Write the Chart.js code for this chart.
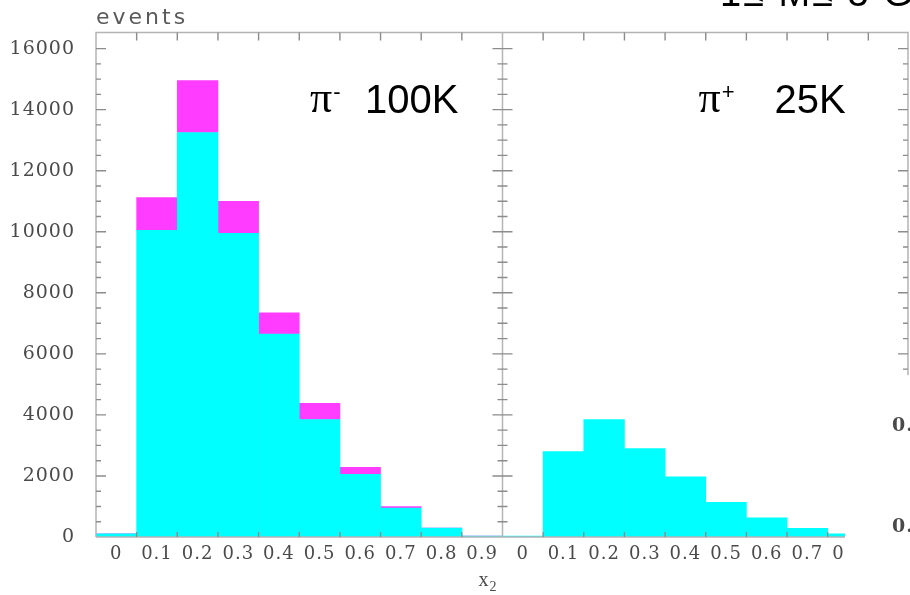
<!DOCTYPE html>
<html>
<head>
<meta charset="utf-8">
<script src="https://cdn.jsdelivr.net/npm/chart.js@4/dist/chart.umd.min.js"></script>
<style>
  html, body { margin: 0; padding: 0; background: #ffffff; }
  #c { display: block; }
</style>
</head>
<body>
<canvas id="c" width="910" height="595"></canvas>
<script>
// ---- data ----
const categories = ['0', '0.1', '0.2', '0.3', '0.4', '0.5', '0.6', '0.7', '0.8', '0.9'];
// pi- panel (left): cyan part and magenta excess stacked on top
const piMinusCyan    = [100, 10050, 13250, 9950, 6650, 3850, 2050, 950, 290, 30];
const piMinusMagenta = [0, 1070, 1700, 1050, 690, 525, 230, 45, 0, 0];
// pi+ panel (right): cyan only
const piPlusCyan     = [30, 2800, 3850, 2900, 1970, 1135, 630, 285, 100, 0];
const piPlusMagenta  = [null, null, null, null, null, null, null, null, null, null];
const yTicks = [0, 2000, 4000, 6000, 8000, 10000, 12000, 14000, 16000];
const panelLabels = [
  { particle: 'π', charge: '-', count: '100K' },
  { particle: 'π', charge: '+', count: '25K' }
];
const topTitle = '1≤ M≤ 3 GeV';
const yAxisTitle = 'events';
const xAxisTitle = 'x';
const xAxisSub = '2';
const thirdPanelLabels = ['0.', '0.'];

const xLabels = categories.concat(categories);
const cyanData = piMinusCyan.concat(piPlusCyan);
const magentaData = piMinusMagenta.concat(piPlusMagenta);

const FRAME = '#b4b4b4';
const TICK = '#8c8c8c';

const decor = {
  id: 'decor',
  beforeDraw(chart) {
    chart.ctx.letterSpacing = '1px';
  },
  afterDatasetsDraw(chart) {
    const { ctx, chartArea: a, scales: { x, y } } = chart;
    const n = xLabels.length;
    const bw = (a.right - a.left) / n;
    const divX = a.left + bw * categories.length;
    ctx.save();
    ctx.letterSpacing = '0px';
    ctx.strokeStyle = FRAME;
    ctx.lineWidth = 1.5;
    ctx.beginPath();
    ctx.moveTo(a.left, a.bottom); ctx.lineTo(a.left, a.top); ctx.lineTo(a.right - 1, a.top);
    ctx.lineTo(a.right - 1, a.bottom);
    ctx.moveTo(a.left, a.bottom); ctx.lineTo(a.right, a.bottom);
    ctx.moveTo(divX, a.top); ctx.lineTo(divX, a.bottom);
    ctx.stroke();
    ctx.strokeStyle = TICK;
    ctx.lineWidth = 1.4;
    ctx.beginPath();
    for (let v = 500; v <= 16500; v += 500) {
      const p = y.getPixelForValue(v);
      if (p < a.top + 2) break;
      const major = v % 2000 === 0;
      const L = major ? 10 : 5;
      ctx.moveTo(a.left, p); ctx.lineTo(a.left + L, p);
      ctx.moveTo(divX - L, p); ctx.lineTo(divX + L, p);
      ctx.moveTo(a.right - 1, p); ctx.lineTo(a.right - 1 - L, p);
    }
    for (let i = 1; i < n; i++) {
      if (i === categories.length) continue;
      const px = a.left + bw * i;
      ctx.moveTo(px, a.top); ctx.lineTo(px, a.top + 8);
      ctx.moveTo(px, a.bottom); ctx.lineTo(px, a.bottom - 5);
    }
    ctx.stroke();
    ctx.restore();
  },
  afterDraw(chart) {
    const { ctx, chartArea: a, scales: { x, y } } = chart;
    const n = xLabels.length;
    const bw = (a.right - a.left) / n;
    const divX = a.left + bw * categories.length;
    ctx.save();
    const maskX = x.getPixelForValue(n - 2) - 3;
    ctx.fillStyle = '#ffffff';
    ctx.fillRect(maskX, y.getPixelForValue(5300), 910 - maskX, 595);
    ctx.fillStyle = '#4a4a4a';
    ctx.font = 'bold 19px "DejaVu Serif"';
    ctx.letterSpacing = '1px';
    ctx.textAlign = 'left';
    ctx.textBaseline = 'middle';
    ctx.fillText(thirdPanelLabels[0], a.right - 17, y.getPixelForValue(3650));
    ctx.fillText(thirdPanelLabels[1], a.right - 17, y.getPixelForValue(330));

    ctx.fillStyle = '#5a5a5a';
    ctx.font = '22px "DejaVu Sans"';
    ctx.letterSpacing = '3px';
    ctx.textBaseline = 'alphabetic';
    ctx.fillText(yAxisTitle, a.left, 24);
    ctx.letterSpacing = '0px';
    ctx.fillStyle = '#4a4a4a';
    ctx.font = '20px "Liberation Serif"';
    ctx.fillText(xAxisTitle, divX - 24, 586);
    ctx.font = '14px "Liberation Serif"';
    ctx.fillText(xAxisSub, divX - 13, 591);

    ctx.fillStyle = '#000000';
    const starts = [a.left + 214, divX + 196];
    const countOff = [55, 76];
    panelLabels.forEach((pl, i) => {
      const sx = starts[i];
      ctx.font = '44px "Liberation Serif"';
      ctx.fillText(pl.particle, sx, 112);
      const pw = ctx.measureText(pl.particle).width;
      ctx.font = '22px "Liberation Sans"';
      ctx.fillText(pl.charge, sx + pw + 1, 99);
      ctx.font = '40px "Liberation Sans"';
      ctx.fillText(pl.count, sx + countOff[i], 113);
    });
    ctx.font = '38px "Liberation Sans"';
    ctx.letterSpacing = '2px';
    ctx.fillText(topTitle, 720, 6);
    ctx.restore();
  }
};

new Chart(document.getElementById('c'), {
  type: 'bar',
  data: {
    labels: xLabels,
    datasets: [
      { label: 'cyan', data: cyanData, backgroundColor: '#00ffff', borderWidth: 0,
        barPercentage: 1, categoryPercentage: 1 },
      { label: 'magenta', data: magentaData, backgroundColor: '#ff3cff', borderWidth: 0,
        barPercentage: 1, categoryPercentage: 1 }
    ]
  },
  options: {
    responsive: false,
    animation: false,
    layout: { padding: { top: 32, right: 1, left: 0, bottom: 0 } },
    plugins: { legend: { display: false }, tooltip: { enabled: false } },
    scales: {
      x: {
        stacked: true,
        grid: { display: false, drawTicks: false },
        border: { display: false },
        ticks: {
          autoSkip: false, maxRotation: 0, minRotation: 0, padding: 7,
          font: { family: 'DejaVu Serif', size: 18 }, color: '#4a4a4a'
        },
        afterFit: s => { s.height = 58; }
      },
      y: {
        stacked: true,
        min: 0, max: 16530,
        grid: { display: false, drawTicks: false },
        border: { display: false },
        ticks: {
          padding: 21,
          font: { family: 'DejaVu Serif', size: 19 }, color: '#4a4a4a',
          callback: v => String(v)
        },
        afterBuildTicks: s => { s.ticks = yTicks.map(v => ({ value: v })); },
        afterFit: s => { s.width = 96; }
      }
    }
  },
  plugins: [decor]
});
</script>
</body>
</html>
